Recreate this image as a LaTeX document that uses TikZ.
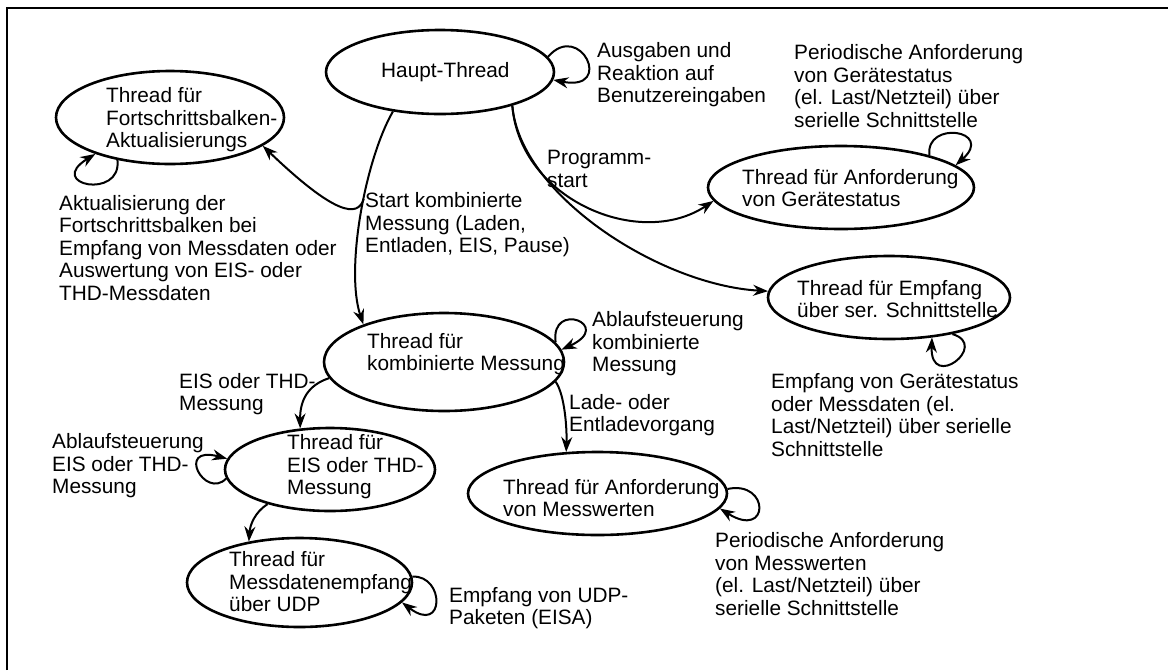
\documentclass[tikz,border=0pt]{standalone}
\usepackage{fontspec}
\setmainfont{Liberation Sans}
\usetikzlibrary{shapes.geometric,arrows.meta}

\begin{document}
\begin{tikzpicture}[x=1pt,y=-1pt,
  font=\fontsize{20.8}{22.5}\selectfont,
  thread/.style={draw, ellipse, line width=2.6pt, inner sep=0pt},
  txt/.style={anchor=west, align=left, inner sep=0pt},
  conn/.style={-{Stealth[length=15pt,width=11pt]}, line width=2pt}]
  \useasboundingbox (0,0) rectangle (1168,670);
  \draw[line width=2.5pt] (7,670) -- (7,8) -- (1168,8);

  % threads
  \node[thread, minimum width=228pt, minimum height=84pt] (haupt) at (440,72) {};
  \node[thread, minimum width=228pt, minimum height=93pt] (fort) at (170,117.5) {};
  \node[thread, minimum width=266pt, minimum height=83pt] (geraet) at (841,187.5) {};
  \node[thread, minimum width=242pt, minimum height=83pt] (empf) at (889,297.5) {};
  \node[thread, minimum width=240pt, minimum height=98pt] (kombi) at (444,362) {};
  \node[thread, minimum width=210pt, minimum height=83pt] (eis) at (330,469.5) {};
  \node[thread, minimum width=225pt, minimum height=89pt] (mdaten) at (299.5,582.5) {};
  \node[thread, minimum width=259pt, minimum height=83pt] (mwerte) at (597.5,493.5) {};

  \node[txt] (haupt-t) at (381,72) {Haupt-Thread};
  \node[txt] (fort-t) at (106,120) {Thread für\\Fortschrittsbalken-\\Aktualisierungs};
  \node[txt] (geraet-t) at (742,188) {Thread für Anforderung\\von Gerätestatus};
  \node[txt] (empf-t) at (797,299) {Thread für Empfang\\über ser. Schnittstelle};
  \node[txt] (kombi-t) at (367,354) {Thread für\\kombinierte Messung};
  \node[txt] (eis-t) at (287,467) {Thread für\\EIS oder THD-\\Messung};
  \node[txt] (mdaten-t) at (229,582) {Thread für\\Messdatenempfang\\über UDP};
  \node[txt] (mwerte-t) at (503,498) {Thread für Anforderung\\von Messwerten};

  % transitions
  \draw[conn] (haupt.220) .. controls (365,160) and (345,270) .. coordinate[pos=.43] (split) (kombi.155);
  \draw[conn] (split) .. controls (358,218) and (335,215) .. (fort.-17);
  \draw[conn] (haupt.-25) .. controls (520,200) and (640,250) .. (geraet.186);
  \draw[conn] (haupt.-25) .. controls (520,195) and (660,285) .. (empf.177);
  \draw[conn] (kombi.188) .. controls (308,385) and (300,400) .. (eis.126);
  \draw[conn] (eis.209) .. controls (255,512) and (250,525) .. (mdaten.141);
  \draw[conn] (kombi.-10) .. controls (565,395) and (567,430) .. (mwerte.127);

  % loops
  \draw[conn] (haupt.8) .. controls (580,20) and (615,92) .. (haupt.-4);
  \draw[conn] (fort.219) .. controls (122,200) and (45,185) .. (fort.206);
  \draw[conn] (geraet.20) .. controls (925,120) and (995,130) .. (geraet.11);
  \draw[conn] (empf.-30) .. controls (990,345) and (930,392) .. (empf.-43);
  \draw[conn] (kombi.10) .. controls (550,300) and (615,325) .. (kombi.6);
  \draw[conn] (eis.185) .. controls (205,500) and (175,445) .. (eis.174);
  \draw[conn] (mwerte.2) .. controls (770,480) and (770,540) .. (mwerte.-7);
  \draw[conn] (mdaten.3) .. controls (445,575) and (445,635) .. (mdaten.-11);

  % labels
  \node[txt] (l-haupt) at (597,75) {Ausgaben und\\Reaktion auf\\Benutzereingaben};
  \node[txt] (l-geraet) at (794,86) {Periodische Anforderung\\von Gerätestatus\\(el. Last/Netzteil) über\\serielle Schnittstelle};
  \node[txt] (l-start) at (547,169) {Programm-\\start};
  \node[txt] (l-fort) at (59,248) {Aktualisierung der\\Fortschrittsbalken bei\\Empfang von Messdaten oder\\Auswertung von EIS- oder\\THD-Messdaten};
  \node[txt] (l-kombi) at (365,225) {Start kombinierte\\Messung (Laden,\\Entladen, EIS, Pause)};
  \node[txt] (l-ablauf) at (592,344) {Ablaufsteuerung\\kombinierte\\Messung};
  \node[txt] (l-eis) at (179,394) {EIS oder THD-\\Messung};
  \node[txt] (l-lade) at (569,415) {Lade- oder\\Entladevorgang};
  \node[txt] (l-ablauf-eis) at (52,466) {Ablaufsteuerung\\EIS oder THD-\\Messung};
  \node[txt] (l-empf) at (771,415) {Empfang von Gerätestatus\\oder Messdaten (el.\\Last/Netzteil) über serielle\\Schnittstelle};
  \node[txt] (l-mwerte) at (715,574) {Periodische Anforderung\\von Messwerten\\(el. Last/Netzteil) über\\serielle Schnittstelle};
  \node[txt] (l-udp) at (449,608) {Empfang von UDP-\\Paketen (EISA)};
\end{tikzpicture}
\end{document}
